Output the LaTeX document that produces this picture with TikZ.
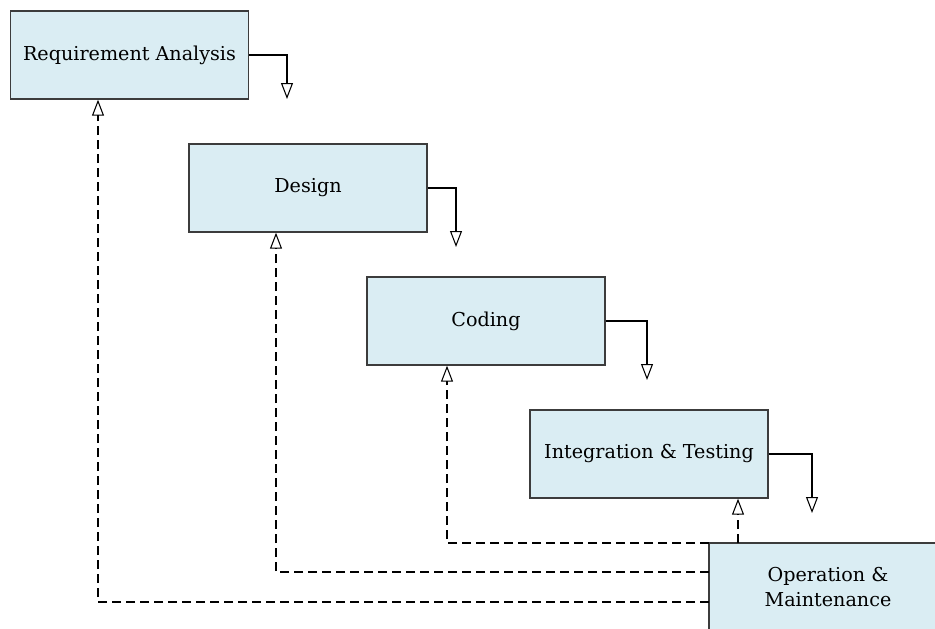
\documentclass[tikz,border=0pt]{standalone}
\usepackage{fontspec}
\setmainfont{DejaVu Serif}
\usetikzlibrary{arrows.meta}
\definecolor{boxfill}{RGB}{218,237,243}
\definecolor{boxline}{RGB}{60,60,60}
\tikzset{
  phase/.style={draw=boxline, line width=0.8pt, fill=boxfill, minimum width=4.76cm, minimum height=1.76cm,
    inner sep=0pt, align=center, font=\fontsize{10.9}{14.5}\selectfont},
  flow/.style={line width=0.6pt, -{Triangle[open, length=0.32cm, width=0.24cm]}},
  feedback/.style={flow, dash pattern=on 0.18cm off 0.1cm}
}
\begin{document}
\begin{tikzpicture}[x=0.02cm, y=-0.02cm]
    \useasboundingbox (0,0) rectangle (935,628);
    \clip (0,0) rectangle (935,628);

    \node[phase](ra) at (129.5,55){Requirement Analysis};
    \node[phase](ds) at (308,188){Design};
    \node[phase](cd) at (486,321){Coding};
    \node[phase](it) at (649,454){Integration \& Testing};
    \node[phase](op) at (828,587){Operation \&\\ Maintenance};

    \coordinate(ra_out) at (287,99);
    \coordinate(ds_out) at (456,247);
    \coordinate(cd_out) at (647,380);
    \coordinate(it_out) at (812,513);

    \coordinate(op_it) at (738,543);
    \coordinate(op_cd) at (709,543);
    \coordinate(op_ds) at (709,572);
    \coordinate(op_ra) at (709,602);

    \draw[flow](ra.east)-|(ra_out);
    \draw[flow](ds.east)-|(ds_out);
    \draw[flow](cd.east)-|(cd_out);
    \draw[flow](it.east)-|(it_out);

    \draw[feedback](op_it)--(op_it |- it.south);
    \draw[feedback](op_cd)-|(cd.south -| 447,0);
    \draw[feedback](op_ds)-|(ds.south -| 276,0);
    \draw[feedback](op_ra)-|(ra.south -| 98,0);
  \end{tikzpicture}
\end{document}
